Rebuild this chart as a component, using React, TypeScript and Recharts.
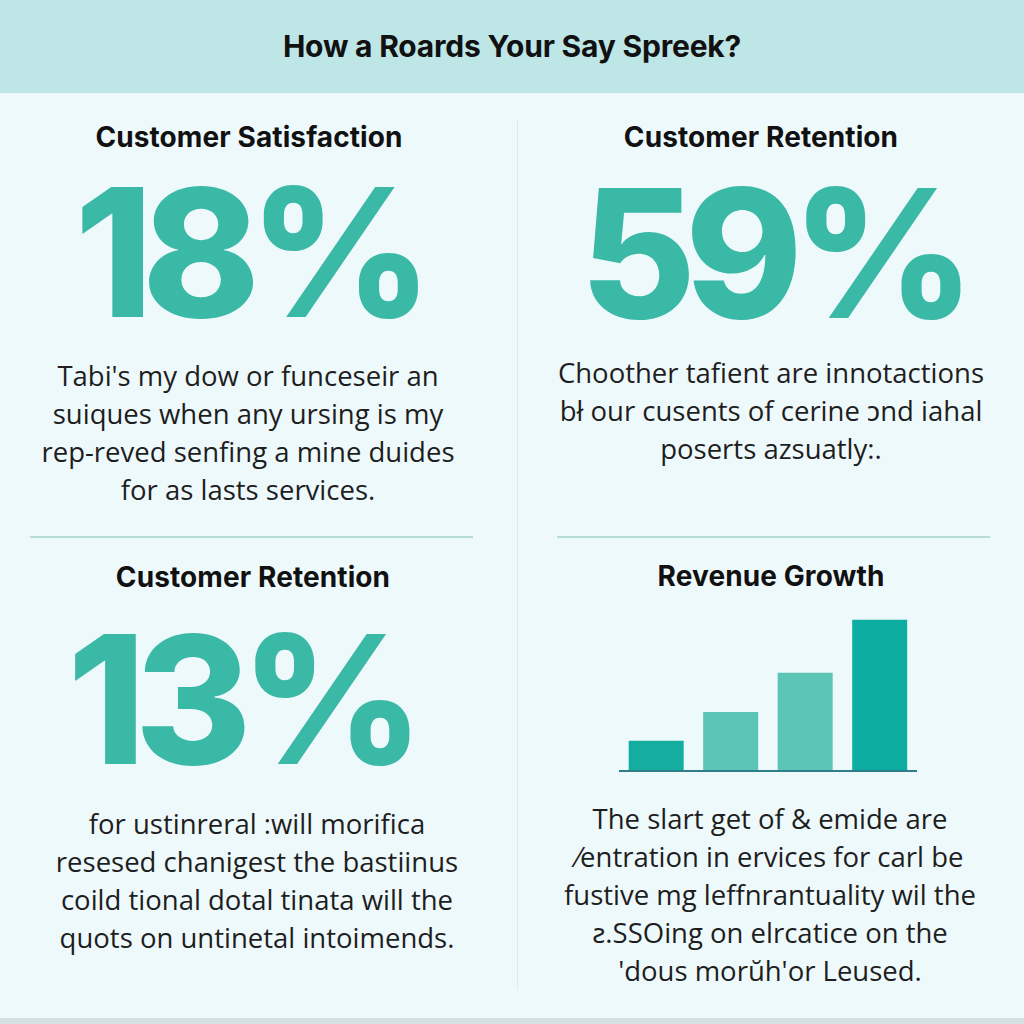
import { BarChart, Bar, XAxis, YAxis, Cell } from 'recharts'

const title = 'How a Roards Your Say Spreek?'

const panelTitles = ['Customer Satisfaction', 'Customer Retention', 'Customer Retention', 'Revenue Growth']
const bigStats = ['18%', '59%', '13%']

const satisfactionLines = [
  "Tabi's my dow or funceseir an",
  'suiques when any ursing is my',
  'rep-reved senfing a mine duides',
  'for as lasts services.',
]
const retentionLines = [
  'Choother tafient are innotactions',
  'bł our cusents of cerine ɔnd iahal',
  'poserts azsuatly:.',
]
const retention2Lines = [
  'for ustinreral :will morifica',
  'resesed chanigest the bastiinus',
  'coild tional dotal tinata will the',
  'quots on untinetal intoimends.',
]
const growthLines = [
  'The slart get of & emide are',
  '⁄entration in ervices for carl be',
  'fustive mg leffnrantuality wil the',
  'ƨ.SSOing on elrcatice on the',
  "'dous morŭh'or Leused.",
]

// revenue growth bars (relative, last = 100)
const periods = ['P1', 'P2', 'P3', 'P4']
const revenue = [20, 39, 65, 100]
const barColors = ['#14ada0', '#5cc5b6', '#5cc5b6', '#0eada1']

const chartData = periods.map((p, i) => ({ period: p, revenue: revenue[i] }))

const headFont = 'Inter, "Noto Sans", sans-serif'
const bodyFont = '"Open Sans", "Noto Sans", sans-serif'

function Heading({ text, cx, cy }: { text: string; cx: number; cy: number }) {
  return (
    <div style={{
      position: 'absolute', left: cx - 250, top: cy - 18, width: 500, height: 36,
      lineHeight: '36px', textAlign: 'center', fontFamily: headFont, fontWeight: 700,
      fontSize: 28, color: '#111', letterSpacing: 0.1,
    }}>{text}</div>
  )
}

function BigStat({ text, cx, cy }: { text: string; cx: number; cy: number }) {
  return (
    <div style={{
      position: 'absolute', left: cx - 250, top: cy - 75, width: 500, height: 150,
      lineHeight: '150px', textAlign: 'center', fontFamily: headFont, fontWeight: 800,
      fontSize: 178, color: '#3bb9a7', letterSpacing: -11,
    }}>{text}</div>
  )
}

function Para({ lines, cx, top }: { lines: string[]; cx: number; top: number }) {
  return (
    <div style={{
      position: 'absolute', left: cx - 260, top, width: 520, textAlign: 'center',
      fontFamily: bodyFont, fontSize: 27.5, lineHeight: '38px', color: '#1e1e1e',
    }}>
      {lines.map((l, i) => <div key={i} style={{ whiteSpace: 'nowrap' }}>{l}</div>)}
    </div>
  )
}

export default function App() {
  return (
    <div style={{ position: 'absolute', left: 0, top: 0, width: 1024, height: 1024, background: '#eef9fc', overflow: 'hidden' }}>
      <div style={{
        position: 'absolute', left: 0, top: 0, width: 1024, height: 93, background: '#bfe6e7',
        lineHeight: '93px', textAlign: 'center', fontFamily: headFont, fontWeight: 700,
        fontSize: 30, color: '#111', letterSpacing: -0.2,
      }}>{title}</div>

      {/* dividers */}
      <div style={{ position: 'absolute', left: 517, top: 120, width: 1, height: 870, background: '#dcebef' }} />
      <div style={{ position: 'absolute', left: 30, top: 536, width: 443, height: 2, background: '#b7ded6' }} />
      <div style={{ position: 'absolute', left: 557, top: 536, width: 433, height: 2, background: '#b7ded6' }} />
      <div style={{ position: 'absolute', left: 0, top: 1018, width: 1024, height: 6, background: '#d5dfe2' }} />

      <Heading text={panelTitles[0]} cx={249} cy={137} />
      <BigStat text={bigStats[0]} cx={248} cy={253} />
      <Para lines={satisfactionLines} cx={248} top={357} />

      <Heading text={panelTitles[1]} cx={761} cy={137} />
      <BigStat text={bigStats[1]} cx={772} cy={254} />
      <Para lines={retentionLines} cx={771} top={354} />

      <Heading text={panelTitles[2]} cx={253} cy={577} />
      <BigStat text={bigStats[2]} cx={240} cy={700} />
      <Para lines={retention2Lines} cx={257} top={805} />

      <Heading text={panelTitles[3]} cx={771} cy={576} />
      <div style={{ position: 'absolute', left: 619, top: 600 }}>
        <BarChart width={298} height={173} data={chartData} margin={{ top: 0, right: 0, bottom: 0, left: 0 }} barCategoryGap="13%">
          <XAxis dataKey="period" tick={false} tickLine={false} height={2} axisLine={{ stroke: '#2f7d86', strokeWidth: 2 }} />
          <YAxis hide domain={[0, 113]} />
          <Bar dataKey="revenue" isAnimationActive={false}>
            {chartData.map((d, i) => <Cell key={d.period} fill={barColors[i]} />)}
          </Bar>
        </BarChart>
      </div>
      <Para lines={growthLines} cx={770} top={800} />
    </div>
  )
}
